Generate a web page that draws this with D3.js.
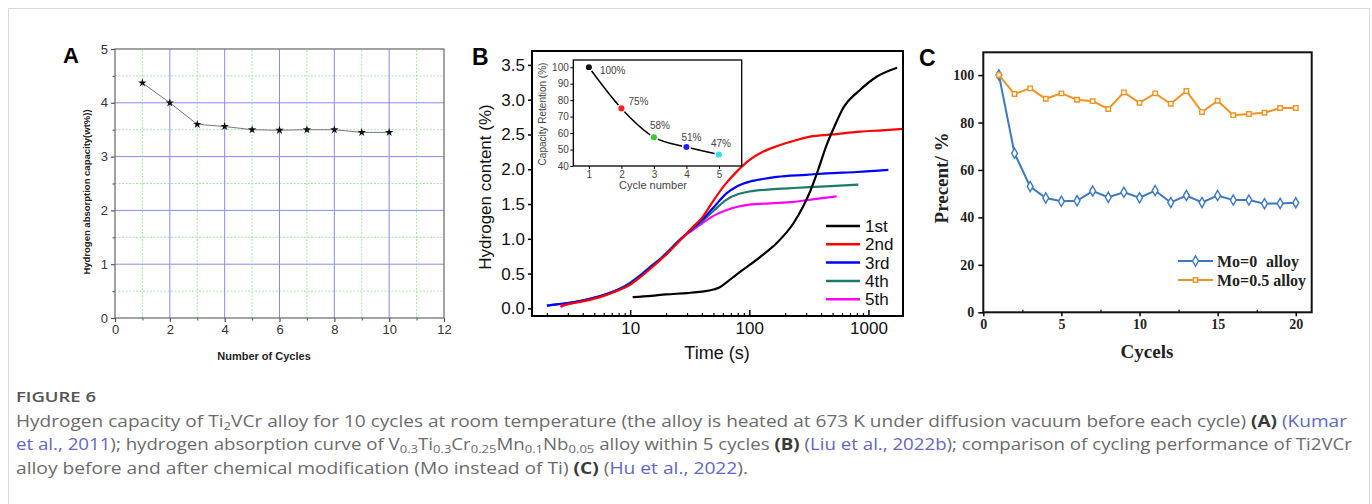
<!DOCTYPE html>
<html>
<head>
<meta charset="utf-8">
<script src="https://cdn.jsdelivr.net/npm/d3@7"></script>
<style>
  body { margin: 0; background: #fff; }
  svg { display: block; }
</style>
</head>
<body>
<svg id="fig" width="1372" height="504"></svg>
<script>
// ---- panel A: capacity vs cycles
const cyclesA = [1, 2, 3, 4, 5, 6, 7, 8, 9, 10];
const capacityA = [4.37, 4.0, 3.6, 3.56, 3.5, 3.49, 3.5, 3.5, 3.45, 3.45];
const xTicksA = [0, 2, 4, 6, 8, 10, 12];
const yTicksA = [0, 1, 2, 3, 4, 5];

// ---- panel B: absorption curves, [time (s), H content (%)]
const seriesNamesB = ["1st", "2nd", "3rd", "4th", "5th"];
const seriesColorsB = ["#000000", "#ff0000", "#0000ff", "#1c7a6c", "#ff00ff"];
const curve1st = [[10.5, 0.16], [15, 0.18], [20, 0.2], [30, 0.22], [40, 0.24], [50, 0.27], [56, 0.3],
  [64, 0.37], [80, 0.5], [100, 0.62], [130, 0.77], [170, 0.94], [234, 1.22], [280, 1.45], [324, 1.68],
  [380, 2.0], [446, 2.35], [520, 2.62], [614, 2.88], [850, 3.14], [1170, 3.33], [1740, 3.46]];
const curve2nd = [[2.6, 0.04], [3, 0.06], [4, 0.1], [5, 0.14], [6, 0.18], [7, 0.22], [8, 0.26], [10, 0.34],
  [12, 0.44], [15, 0.58], [18, 0.7], [20, 0.77], [25, 0.94], [30, 1.08], [35, 1.2], [40, 1.3], [50, 1.55],
  [64, 1.8], [80, 1.98], [100, 2.13], [130, 2.25], [170, 2.33], [250, 2.42], [324, 2.47], [500, 2.5],
  [850, 2.54], [1300, 2.56], [1950, 2.58]];
const curve3rd = [[2.0, 0.04], [2.5, 0.06], [3, 0.075], [4, 0.11], [5, 0.15], [6, 0.19], [7, 0.23], [8, 0.27],
  [10, 0.36], [12, 0.46], [15, 0.6], [18, 0.71], [20, 0.78], [25, 0.95], [30, 1.08], [35, 1.18], [40, 1.27],
  [50, 1.45], [64, 1.65], [80, 1.76], [100, 1.82], [130, 1.86], [170, 1.89], [300, 1.92], [446, 1.94],
  [800, 1.96], [1470, 1.99]];
const curve4th = [[2.0, 0.04], [2.5, 0.06], [3, 0.075], [4, 0.115], [5, 0.155], [6, 0.195], [7, 0.235],
  [8, 0.275], [10, 0.37], [12, 0.47], [15, 0.61], [18, 0.72], [20, 0.79], [25, 0.96], [30, 1.08], [35, 1.17],
  [40, 1.25], [50, 1.4], [64, 1.56], [80, 1.64], [100, 1.68], [150, 1.71], [234, 1.73], [400, 1.75], [822, 1.78]];
const curve5th = [[2.6, 0.02], [3, 0.06], [4, 0.11], [5, 0.15], [6, 0.19], [7, 0.23], [8, 0.27], [10, 0.36],
  [12, 0.46], [15, 0.6], [18, 0.71], [20, 0.78], [25, 0.95], [30, 1.07], [35, 1.15], [40, 1.22], [50, 1.33],
  [64, 1.41], [80, 1.46], [100, 1.49], [150, 1.51], [234, 1.53], [350, 1.57], [540, 1.61]];
const curvesB = [curve1st, curve2nd, curve3rd, curve4th, curve5th];
const yTicksB = [0, 0.5, 1, 1.5, 2, 2.5, 3, 3.5];
const xTicksB = [10, 100, 1000];

// ---- panel B inset: capacity retention
const insetCycles = [1, 2, 3, 4, 5];
const insetRetention = [100, 75, 57.5, 51.5, 47];
const insetLabels = ["100%", "75%", "58%", "51%", "47%"];
const insetColors = ["#111111", "#ff2020", "#33cc33", "#2222ff", "#33e0e0"];
const insetYTicks = [40, 50, 60, 70, 80, 90, 100];

// ---- panel C: cycling, Mo=0 vs Mo=0.5
const cyclesC = d3.range(1, 21);
const mo0 = [100, 67, 53, 48.2, 46.8, 47, 51.1, 48.5, 50.6, 48.3, 51.3, 46.3, 49.2, 46.3, 49.2, 47.3, 47.3, 45.8, 45.9, 46.2];
const mo05 = [100, 92, 94.4, 90, 92.3, 89.6, 89, 85.7, 92.7, 88.3, 92.3, 87.9, 93.3, 84.4, 89.2, 83.1, 83.6, 84.1, 86.1, 86.1];
const xTicksC = [0, 5, 10, 15, 20];
const yTicksC = [0, 20, 40, 60, 80, 100];

const SANS = "'Liberation Sans', Arial, sans-serif";
const SERIF = "'Liberation Serif', 'Times New Roman', serif";

const svg = d3.select("#fig");
svg.append("rect").attr("width", 1372).attr("height", 504).attr("fill", "#fff");
svg.append("rect").attr("x", 8.5).attr("y", 8.5).attr("width", 1361).attr("height", 520)
  .attr("fill", "none").attr("stroke", "#d9d9d9");

function styleAxis(g, font, size, weight, color, tickColor, tickWidth) {
  g.attr("font-family", font).attr("font-size", size).attr("font-weight", weight);
  g.select(".domain").remove();
  g.selectAll("text").attr("fill", color);
  g.selectAll("line").attr("stroke", tickColor).attr("stroke-width", tickWidth);
}

// ================= Panel A =================
(function () {
  const x = d3.scaleLinear().domain([0, 12]).range([115, 444]);
  const y = d3.scaleLinear().domain([0, 5]).range([318, 49]);
  const g = svg.append("g");

  // minor grid (green dotted)
  g.selectAll(".gx2").data(d3.range(1, 12, 2)).enter().append("line")
    .attr("x1", d => x(d)).attr("x2", d => x(d)).attr("y1", y(0)).attr("y2", y(5))
    .attr("stroke", "#a8e6a8").attr("stroke-dasharray", "2,1.5");
  g.selectAll(".gy2").data(d3.range(0.5, 5, 1)).enter().append("line")
    .attr("y1", d => y(d)).attr("y2", d => y(d)).attr("x1", x(0)).attr("x2", x(12))
    .attr("stroke", "#a8e6a8").attr("stroke-dasharray", "2,1.5");
  // major grid (blue)
  g.selectAll(".gx").data(xTicksA.slice(1, -1)).enter().append("line")
    .attr("x1", d => x(d)).attr("x2", d => x(d)).attr("y1", y(0)).attr("y2", y(5))
    .attr("stroke", "#8a8af0");
  g.selectAll(".gy").data(yTicksA.slice(1, -1)).enter().append("line")
    .attr("y1", d => y(d)).attr("y2", d => y(d)).attr("x1", x(0)).attr("x2", x(12))
    .attr("stroke", "#8a8af0");

  g.append("rect").attr("x", x(0)).attr("y", y(5)).attr("width", x(12) - x(0)).attr("height", y(0) - y(5))
    .attr("fill", "none").attr("stroke", "#666").attr("stroke-width", 1.2);

  const fmt = d3.format("d");
  g.append("g").attr("transform", `translate(0,${y(0)})`)
    .call(d3.axisBottom(x).tickValues(xTicksA).tickSize(4).tickPadding(3).tickFormat(fmt))
    .call(a => styleAxis(a, SANS, 13, "normal", "#333", "#555", 1.2));
  g.append("g").attr("transform", `translate(0,${y(0)})`)
    .call(d3.axisBottom(x).tickValues(d3.range(1, 12, 2)).tickSize(2.5).tickFormat(""))
    .call(a => styleAxis(a, SANS, 13, "normal", "#333", "#555", 1));
  g.append("g").attr("transform", `translate(${x(0)},0)`)
    .call(d3.axisLeft(y).tickValues(yTicksA).tickSize(4).tickPadding(3).tickFormat(fmt))
    .call(a => styleAxis(a, SANS, 13, "normal", "#333", "#555", 1.2));
  g.append("g").attr("transform", `translate(${x(0)},0)`)
    .call(d3.axisLeft(y).tickValues(d3.range(0.5, 5, 1)).tickSize(2.5).tickFormat(""))
    .call(a => styleAxis(a, SANS, 13, "normal", "#333", "#555", 1));

  const pts = cyclesA.map((c, i) => [c, capacityA[i]]);
  g.append("path").datum(pts)
    .attr("d", d3.line().x(d => x(d[0])).y(d => y(d[1])))
    .attr("fill", "none").attr("stroke", "#777").attr("stroke-width", 1);
  g.selectAll(".star").data(pts).enter().append("path")
    .attr("transform", d => `translate(${x(d[0])},${y(d[1])})`)
    .attr("d", d3.symbol(d3.symbolStar, 22)).attr("fill", "#111");

  svg.append("text").attr("x", 63).attr("y", 63).text("A")
    .attr("font-family", SANS).attr("font-weight", "bold").attr("font-size", 22);
  svg.append("text").attr("transform", "translate(90,192) rotate(-90)").attr("text-anchor", "middle")
    .attr("font-family", SANS).attr("font-weight", "bold").attr("font-size", 9.5).attr("fill", "#222")
    .text("Hydrogen absorption capacity(wt%))");
  svg.append("text").attr("x", 264).attr("y", 360).attr("text-anchor", "middle")
    .attr("font-family", SANS).attr("font-weight", "bold").attr("font-size", 11).attr("fill", "#222")
    .text("Number of Cycles");
})();

// ================= Panel B =================
(function () {
  const x = d3.scaleLog().domain([1.5, 1950]).range([532, 903]);
  const y = d3.scaleLinear().domain([-0.11, 3.70]).range([316, 51]);
  const g = svg.append("g");

  const minor = [];
  [1, 10, 100, 1000].forEach(dec => d3.range(2, 10).forEach(k => {
    const v = dec * k; if (v >= 1.5 && v <= 1950) minor.push(v);
  }));
  g.append("g").attr("transform", `translate(0,316)`)
    .call(d3.axisBottom(x).tickValues(xTicksB).tickSize(-6).tickPadding(6).tickFormat(d3.format("d")))
    .call(a => styleAxis(a, SANS, 17, "normal", "#111", "#000", 1.5));
  g.append("g").attr("transform", `translate(0,316)`)
    .call(d3.axisBottom(x).tickValues(minor).tickSize(-3).tickFormat(""))
    .call(a => styleAxis(a, SANS, 17, "normal", "#111", "#000", 1.2));
  g.append("g").attr("transform", `translate(532,0)`)
    .call(d3.axisLeft(y).tickValues(yTicksB).tickSize(4).tickPadding(3).tickFormat(d3.format(".1f")))
    .call(a => styleAxis(a, SANS, 17, "normal", "#111", "#000", 1.5));

  const line = d3.line().x(d => x(d[0])).y(d => y(d[1])).curve(d3.curveMonotoneX);
  // draw order: later cycles below, 2nd and 1st on top
  [4, 3, 2, 1, 0].forEach(i => {
    g.append("path").datum(curvesB[i]).attr("d", line)
      .attr("fill", "none").attr("stroke", seriesColorsB[i]).attr("stroke-width", 2.2);
  });

  g.append("rect").attr("x", 532).attr("y", 51).attr("width", 371).attr("height", 265)
    .attr("fill", "none").attr("stroke", "#000").attr("stroke-width", 2);

  // legend
  const lg = g.append("g");
  seriesNamesB.forEach((n, i) => {
    const yy = 226 + i * 18.3;
    lg.append("line").attr("x1", 826).attr("x2", 860).attr("y1", yy).attr("y2", yy)
      .attr("stroke", seriesColorsB[i]).attr("stroke-width", 2.5);
    lg.append("text").attr("x", 865).attr("y", yy).attr("dy", "0.35em").text(n)
      .attr("font-family", SANS).attr("font-size", 17).attr("fill", "#111");
  });

  // inset
  const xi = d3.scaleLinear().domain([0.52, 5.7]).range([573.3, 741.7]);
  const yi = d3.scaleLinear().domain([40, 104.4]).range([166, 60]);
  const ig = g.append("g");
  ig.append("rect").attr("x", 573.3).attr("y", 60).attr("width", 168.4).attr("height", 106)
    .attr("fill", "#fff").attr("stroke", "#000").attr("stroke-width", 1.3);
  ig.append("g").attr("transform", `translate(0,166)`)
    .call(d3.axisBottom(xi).tickValues(insetCycles).tickSize(3).tickPadding(1.5).tickFormat(d3.format("d")))
    .call(a => styleAxis(a, SANS, 10, "normal", "#444", "#000", 1));
  ig.append("g").attr("transform", `translate(573.3,0)`)
    .call(d3.axisLeft(yi).tickValues(insetYTicks).tickSize(3).tickPadding(1.5).tickFormat(d3.format("d")))
    .call(a => styleAxis(a, SANS, 10, "normal", "#444", "#000", 1));
  const ipts = insetCycles.map((c, i) => [c, insetRetention[i]]);
  ig.append("path").datum(ipts)
    .attr("d", d3.line().x(d => xi(d[0])).y(d => yi(d[1])).curve(d3.curveMonotoneX))
    .attr("fill", "none").attr("stroke", "#000").attr("stroke-width", 1.5);
  ig.selectAll(".dot").data(ipts).enter().append("circle")
    .attr("cx", d => xi(d[0])).attr("cy", d => yi(d[1])).attr("r", 3.8)
    .attr("fill", (d, i) => insetColors[i]).attr("stroke", "#fff").attr("stroke-width", 1.5);
  const lblOff = [[11, 3], [7, -7], [-4, -12], [-5, -10], [-8, -11]];
  ig.selectAll(".lbl").data(ipts).enter().append("text")
    .attr("x", (d, i) => xi(d[0]) + lblOff[i][0]).attr("y", (d, i) => yi(d[1]) + lblOff[i][1])
    .attr("dy", "0.35em").text((d, i) => insetLabels[i])
    .attr("font-family", SANS).attr("font-size", 10).attr("fill", "#444");
  ig.append("text").attr("transform", "translate(546,114) rotate(-90)").attr("text-anchor", "middle")
    .attr("font-family", SANS).attr("font-size", 10).attr("fill", "#444").text("Capacity Retention (%)");
  ig.append("text").attr("x", 653).attr("y", 189).attr("text-anchor", "middle")
    .attr("font-family", SANS).attr("font-size", 11).attr("fill", "#444").text("Cycle number");

  svg.append("text").attr("x", 472).attr("y", 65).text("B")
    .attr("font-family", SANS).attr("font-weight", "bold").attr("font-size", 23);
  svg.append("text").attr("transform", "translate(491,187) rotate(-90)").attr("text-anchor", "middle")
    .attr("font-family", SANS).attr("font-size", 17).attr("fill", "#111").text("Hydrogen content (%)");
  svg.append("text").attr("x", 717).attr("y", 359).attr("text-anchor", "middle")
    .attr("font-family", SANS).attr("font-size", 18).attr("fill", "#111").text("Time (s)");
})();

// ================= Panel C =================
(function () {
  const x = d3.scaleLinear().domain([0, 21.02]).range([983.3, 1311.7]);
  const y = d3.scaleLinear().domain([0, 109.6]).range([312.3, 52.3]);
  const g = svg.append("g");

  g.append("g").attr("transform", `translate(0,${y(0)})`)
    .call(d3.axisBottom(x).tickValues(xTicksC).tickSize(4).tickPadding(3))
    .call(a => styleAxis(a, SERIF, 14, "bold", "#222", "#000", 1.5));
  g.append("g").attr("transform", `translate(0,${y(0)})`)
    .call(d3.axisBottom(x).tickValues([2.5, 7.5, 12.5, 17.5]).tickSize(-2.5).tickFormat(""))
    .call(a => styleAxis(a, SERIF, 14, "bold", "#222", "#000", 1.2));
  g.append("g").attr("transform", `translate(${x(0)},0)`)
    .call(d3.axisLeft(y).tickValues(yTicksC).tickSize(5).tickPadding(4))
    .call(a => styleAxis(a, SERIF, 14, "bold", "#222", "#000", 1.5));

  g.append("rect").attr("x", 983.3).attr("y", 52.3).attr("width", 328.4).attr("height", 260)
    .attr("fill", "none").attr("stroke", "#111").attr("stroke-width", 2);

  const series = [
    { vals: mo0, color: "#3b78c3", sym: d3.symbolDiamond, size: 30 },
    { vals: mo05, color: "#f39322", sym: d3.symbolSquare, size: 20 }
  ];
  const line = d3.line().x(d => x(d[0])).y(d => y(d[1]));
  series.forEach(s => {
    const pts = cyclesC.map((c, i) => [c, s.vals[i]]);
    g.append("path").datum(pts).attr("d", line)
      .attr("fill", "none").attr("stroke", s.color).attr("stroke-width", 2);
    g.selectAll(null).data(pts).enter().append("path")
      .attr("transform", d => `translate(${x(d[0])},${y(d[1])})`)
      .attr("d", d3.symbol(s.sym, s.size)).attr("fill", "#fff")
      .attr("stroke", s.color).attr("stroke-width", 1.4);
  });

  // legend
  const names = ["Mo=0", "Mo=0.5 alloy"];
  series.forEach((s, i) => {
    const yy = 261 + i * 19;
    g.append("line").attr("x1", 1178).attr("x2", 1213).attr("y1", yy).attr("y2", yy)
      .attr("stroke", s.color).attr("stroke-width", 2);
    g.append("path").attr("transform", `translate(1195.5,${yy})`)
      .attr("d", d3.symbol(s.sym, s.size)).attr("fill", "#fff").attr("stroke", s.color).attr("stroke-width", 1.4);
    g.append("text").attr("x", 1217).attr("y", yy).attr("dy", "0.35em").text(names[i])
      .attr("font-family", SERIF).attr("font-weight", "bold").attr("font-size", 16).attr("fill", "#222");
  });
  g.append("text").attr("x", 1299).attr("y", 261).attr("dy", "0.35em").attr("text-anchor", "end").text("alloy")
    .attr("font-family", SERIF).attr("font-weight", "bold").attr("font-size", 16).attr("fill", "#222");

  svg.append("text").attr("x", 919).attr("y", 66).text("C")
    .attr("font-family", SANS).attr("font-weight", "bold").attr("font-size", 23);
  svg.append("text").attr("transform", "translate(948,178) rotate(-90)").attr("text-anchor", "middle")
    .attr("font-family", SERIF).attr("font-weight", "bold").attr("font-size", 19).attr("fill", "#222")
    .text("Precent/ %");
  svg.append("text").attr("x", 1147).attr("y", 358).attr("text-anchor", "middle")
    .attr("font-family", SERIF).attr("font-weight", "bold").attr("font-size", 19).attr("fill", "#222")
    .text("Cycels");
})();

// ================= Caption =================
(function () {
  const CAP = "'Open Sans', 'Noto Sans', sans-serif";
  const gray = "#6b6b6b", link = "#6266c4", dark = "#3a3a3a";
  svg.append("text").attr("x", 16).attr("y", 402).text("FIGURE 6")
    .attr("font-family", CAP).attr("font-size", 15).attr("font-weight", 600).attr("fill", "#555")
    .attr("textLength", 80).attr("lengthAdjust", "spacingAndGlyphs");

  function caption(yy, len, parts) {
    const t = svg.append("text").attr("x", 16).attr("y", yy)
      .attr("font-family", CAP).attr("font-size", 16.5).attr("fill", gray)
      .attr("textLength", len).attr("lengthAdjust", "spacingAndGlyphs");
    parts.forEach(p => {
      const s = t.append("tspan").text(p.t);
      if (p.c) s.attr("fill", p.c);
      if (p.b) s.attr("font-weight", "bold").attr("fill", dark);
      if (p.sub) s.attr("font-size", 11.5).attr("baseline-shift", "-25%");
    });
    return t;
  }
  caption(427, 1331, [
    { t: "Hydrogen capacity of Ti" }, { t: "2", sub: true },
    { t: "VCr alloy for 10 cycles at room temperature (the alloy is heated at 673 K under diffusion vacuum before each cycle) " },
    { t: "(A)", b: true }, { t: " " }, { t: "(Kumar", c: link }
  ]);
  caption(450, 1336, [
    { t: "et al., 2011", c: link }, { t: "); hydrogen absorption curve of V" }, { t: "0.3", sub: true },
    { t: "Ti" }, { t: "0.3", sub: true }, { t: "Cr" }, { t: "0.25", sub: true }, { t: "Mn" }, { t: "0.1", sub: true },
    { t: "Nb" }, { t: "0.05", sub: true }, { t: " alloy within 5 cycles " }, { t: "(B)", b: true }, { t: " (" },
    { t: "Liu et al., 2022b", c: link }, { t: "); comparison of cycling performance of Ti2VCr" }
  ]);
  caption(474, 732, [
    { t: "alloy before and after chemical modification (Mo instead of Ti) " }, { t: "(C)", b: true },
    { t: " (" }, { t: "Hu et al., 2022", c: link }, { t: ")." }
  ]);
})();
</script>
</body>
</html>
